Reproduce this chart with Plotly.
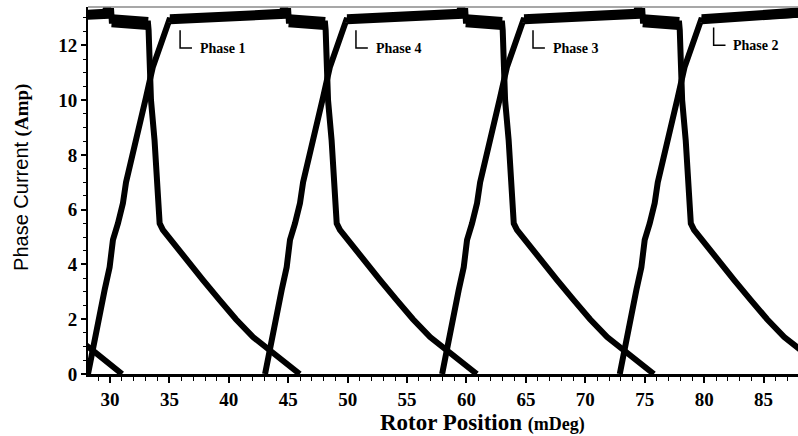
import plotly.graph_objects as go

# ---------------- data ----------------
# Pulse template (offset from the rise start, mDeg) and current (Amp)
rise_offset = [0, 0.42, 0.84, 1.4, 1.82, 2.1, 2.52, 2.94, 3.2, 3.95, 4.45, 4.88, 5.45, 5.89, 6.48, 6.9]
rise_current = [0, 1.0, 2.0, 3.07, 3.9, 4.9, 5.5, 6.24, 7.0, 8.3, 9.27, 10.1, 11.2, 11.8, 12.55, 13.0]

top_hi_offset = [6.9, 11.0, 16.4, 16.5, 16.85]
top_hi_current = [12.95, 13.05, 13.15, 13.25, 13.25]

top_lo_offset = [16.9, 17.8, 17.85, 19.95]
top_lo_current = [12.9, 12.9, 12.8, 12.8]

fall_offset = [20.0, 20.2, 20.5, 20.8, 20.93, 21.2, 22.05, 23.15, 24.58, 25.98, 27.35, 28.79, 30.19, 31.56, 32.72]
fall_current = [12.55, 10.0, 8.54, 6.8, 5.5, 5.26, 4.78, 4.16, 3.43, 2.7, 2.0, 1.35, 0.88, 0.4, 0]

# rise start of each visible pulse (mDeg)
pulse_starts = [-1.7, 13.25, 28.15, 43.05, 57.95, 72.9]

# phase labels
phase_names = ["Phase 1", "Phase 4", "Phase 3", "Phase 2"]
phase_label_x = [35.9, 50.7, 65.6, 80.8]
phase_label_y = [11.9, 11.9, 11.9, 12.0]

x_ticks = [30, 35, 40, 45, 50, 55, 60, 65, 70, 75, 80, 85]
y_ticks = [0, 2, 4, 6, 8, 10, 12]

X_RANGE = [28.15, 87.9]
Y_RANGE = [0, 13.4]

# ---------------- figure ----------------
fig = go.Figure()

full_offset = rise_offset + top_hi_offset + top_lo_offset + fall_offset
full_current = rise_current + top_hi_current + top_lo_current + fall_current

for s in pulse_starts:
    fig.add_trace(go.Scatter(
        x=[s + o for o in full_offset], y=full_current, mode="lines",
        line=dict(color="black", width=6), showlegend=False, hoverinfo="skip"))
    fig.add_trace(go.Scatter(
        x=[s + o for o in top_hi_offset], y=top_hi_current, mode="lines",
        line=dict(color="black", width=10), showlegend=False, hoverinfo="skip"))
    fig.add_trace(go.Scatter(
        x=[s + o for o in top_lo_offset], y=top_lo_current, mode="lines",
        line=dict(color="black", width=13), showlegend=False, hoverinfo="skip"))

serif_bold = dict(family="Liberation Serif", color="black", weight="bold")

shapes = [dict(type="line", xref="paper", yref="paper", x0=0, x1=1, y0=1, y1=1,
               line=dict(color="#8a8a8a", width=1.5))]
annotations = []
for name, lx, ly in zip(phase_names, phase_label_x, phase_label_y):
    shapes.append(dict(type="path", xref="x", yref="y",
                       path=f"M {lx} {ly + 0.65} L {lx} {ly} L {lx + 1.0} {ly}",
                       line=dict(color="black", width=1.5)))
    annotations.append(dict(x=lx + 1.5, y=ly, xref="x", yref="y", text=name,
                            showarrow=False, xanchor="left", yanchor="middle",
                            font=dict(size=14, **serif_bold)))

annotations.append(dict(
    xref="paper", yref="paper", x=0.555, y=-0.1335, showarrow=False,
    xanchor="center", yanchor="middle",
    text="Rotor Position <span style='font-size:18px'>(mDeg)</span>",
    font=dict(size=23, **serif_bold)))
annotations.append(dict(
    xref="paper", yref="paper", x=-0.093, y=0.537, showarrow=False,
    xanchor="center", yanchor="middle", textangle=-90,
    text="Phase Current <span style='font-family:Liberation Serif;font-size:19px'><b>(Amp)</b></span>",
    font=dict(family="Liberation Sans", size=20, color="black")))

fig.update_layout(
    width=798, height=436,
    margin=dict(l=88, r=0, t=7, b=62),
    paper_bgcolor="white", plot_bgcolor="white",
    shapes=shapes, annotations=annotations,
    xaxis=dict(range=X_RANGE, showline=True, linecolor="black", linewidth=3,
               ticks="outside", ticklen=6, tickwidth=1.5, tickcolor="black",
               tickvals=x_ticks, showgrid=False, zeroline=False,
               minor=dict(dtick=1, ticks="outside", ticklen=4, tickcolor="black", tickwidth=1),
               tickfont=dict(size=19, **serif_bold)),
    yaxis=dict(range=Y_RANGE, showline=True, linecolor="black", linewidth=2,
               ticks="outside", ticklen=5, tickwidth=1.5, tickcolor="black",
               tickvals=y_ticks, showgrid=False, zeroline=False,
               minor=dict(dtick=0.5, ticks="outside", ticklen=3, tickcolor="black", tickwidth=1),
               tickfont=dict(size=19, **serif_bold)),
)

fig.write_html("out.html")
